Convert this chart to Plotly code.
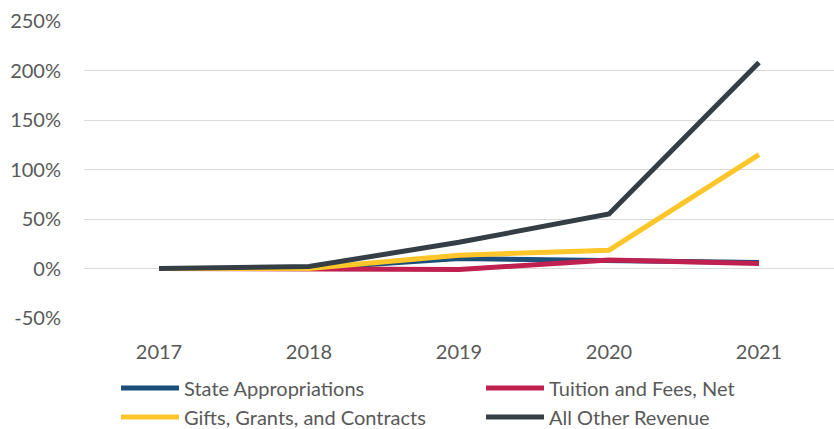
import plotly.graph_objects as go

years = ["2017", "2018", "2019", "2020", "2021"]
state_appropriations = [0, 0, 10, 8, 6]
tuition_fees_net = [0, 0, -1, 8.5, 5]
gifts_grants_contracts = [0, 0, 13.5, 18.5, 115]
all_other_revenue = [0, 2, 26.5, 55, 208]

series = [
    ("State Appropriations", state_appropriations, "#1B4F7A"),
    ("Tuition and Fees, Net", tuition_fees_net, "#C0204F"),
    ("Gifts, Grants, and Contracts", gifts_grants_contracts, "#FFC629"),
    ("All Other Revenue", all_other_revenue, "#343E44"),
]

fig = go.Figure()
for name, vals, color in series:
    fig.add_trace(go.Scatter(
        x=years, y=vals, name=name, mode="lines",
        line=dict(color=color, width=5),
    ))

font_family = "Lato, Carlito, 'Open Sans', sans-serif"
fig.update_layout(
    width=834, height=429,
    margin=dict(l=84, r=0, t=21, b=111, autoexpand=False),
    plot_bgcolor="white", paper_bgcolor="white",
    font=dict(family=font_family, size=20, color="#595959"),
    xaxis=dict(
        type="category", range=[-0.5, 4.5], showgrid=False, zeroline=False,
        showline=False, ticks="", ticklabelstandoff=20,
        tickfont=dict(size=20, color="#595959"),
    ),
    yaxis=dict(
        range=[-50, 250], tickvals=[-50, 0, 50, 100, 150, 200, 250],
        ticktext=["-50%", "0%", "50%", "100%", "150%", "200%", "250%"],
        showgrid=True, gridcolor="#D9D9D9", gridwidth=1.3, zeroline=False,
        showline=False, ticks="", ticklabelstandoff=22,
        tickfont=dict(size=20, color="#595959"),
    ),
    legend=dict(
        orientation="h", x=0.0427, xanchor="left", y=-0.17, yanchor="top",
        entrywidth=292, entrywidthmode="pixels",
        font=dict(size=20, color="#595959"),
        tracegroupgap=0, itemwidth=58,
    ),
    showlegend=True,
)

fig.write_html(
    "out.html",
    config={"displayModeBar": False},
    post_script="document.body.style.margin='0';",
)
